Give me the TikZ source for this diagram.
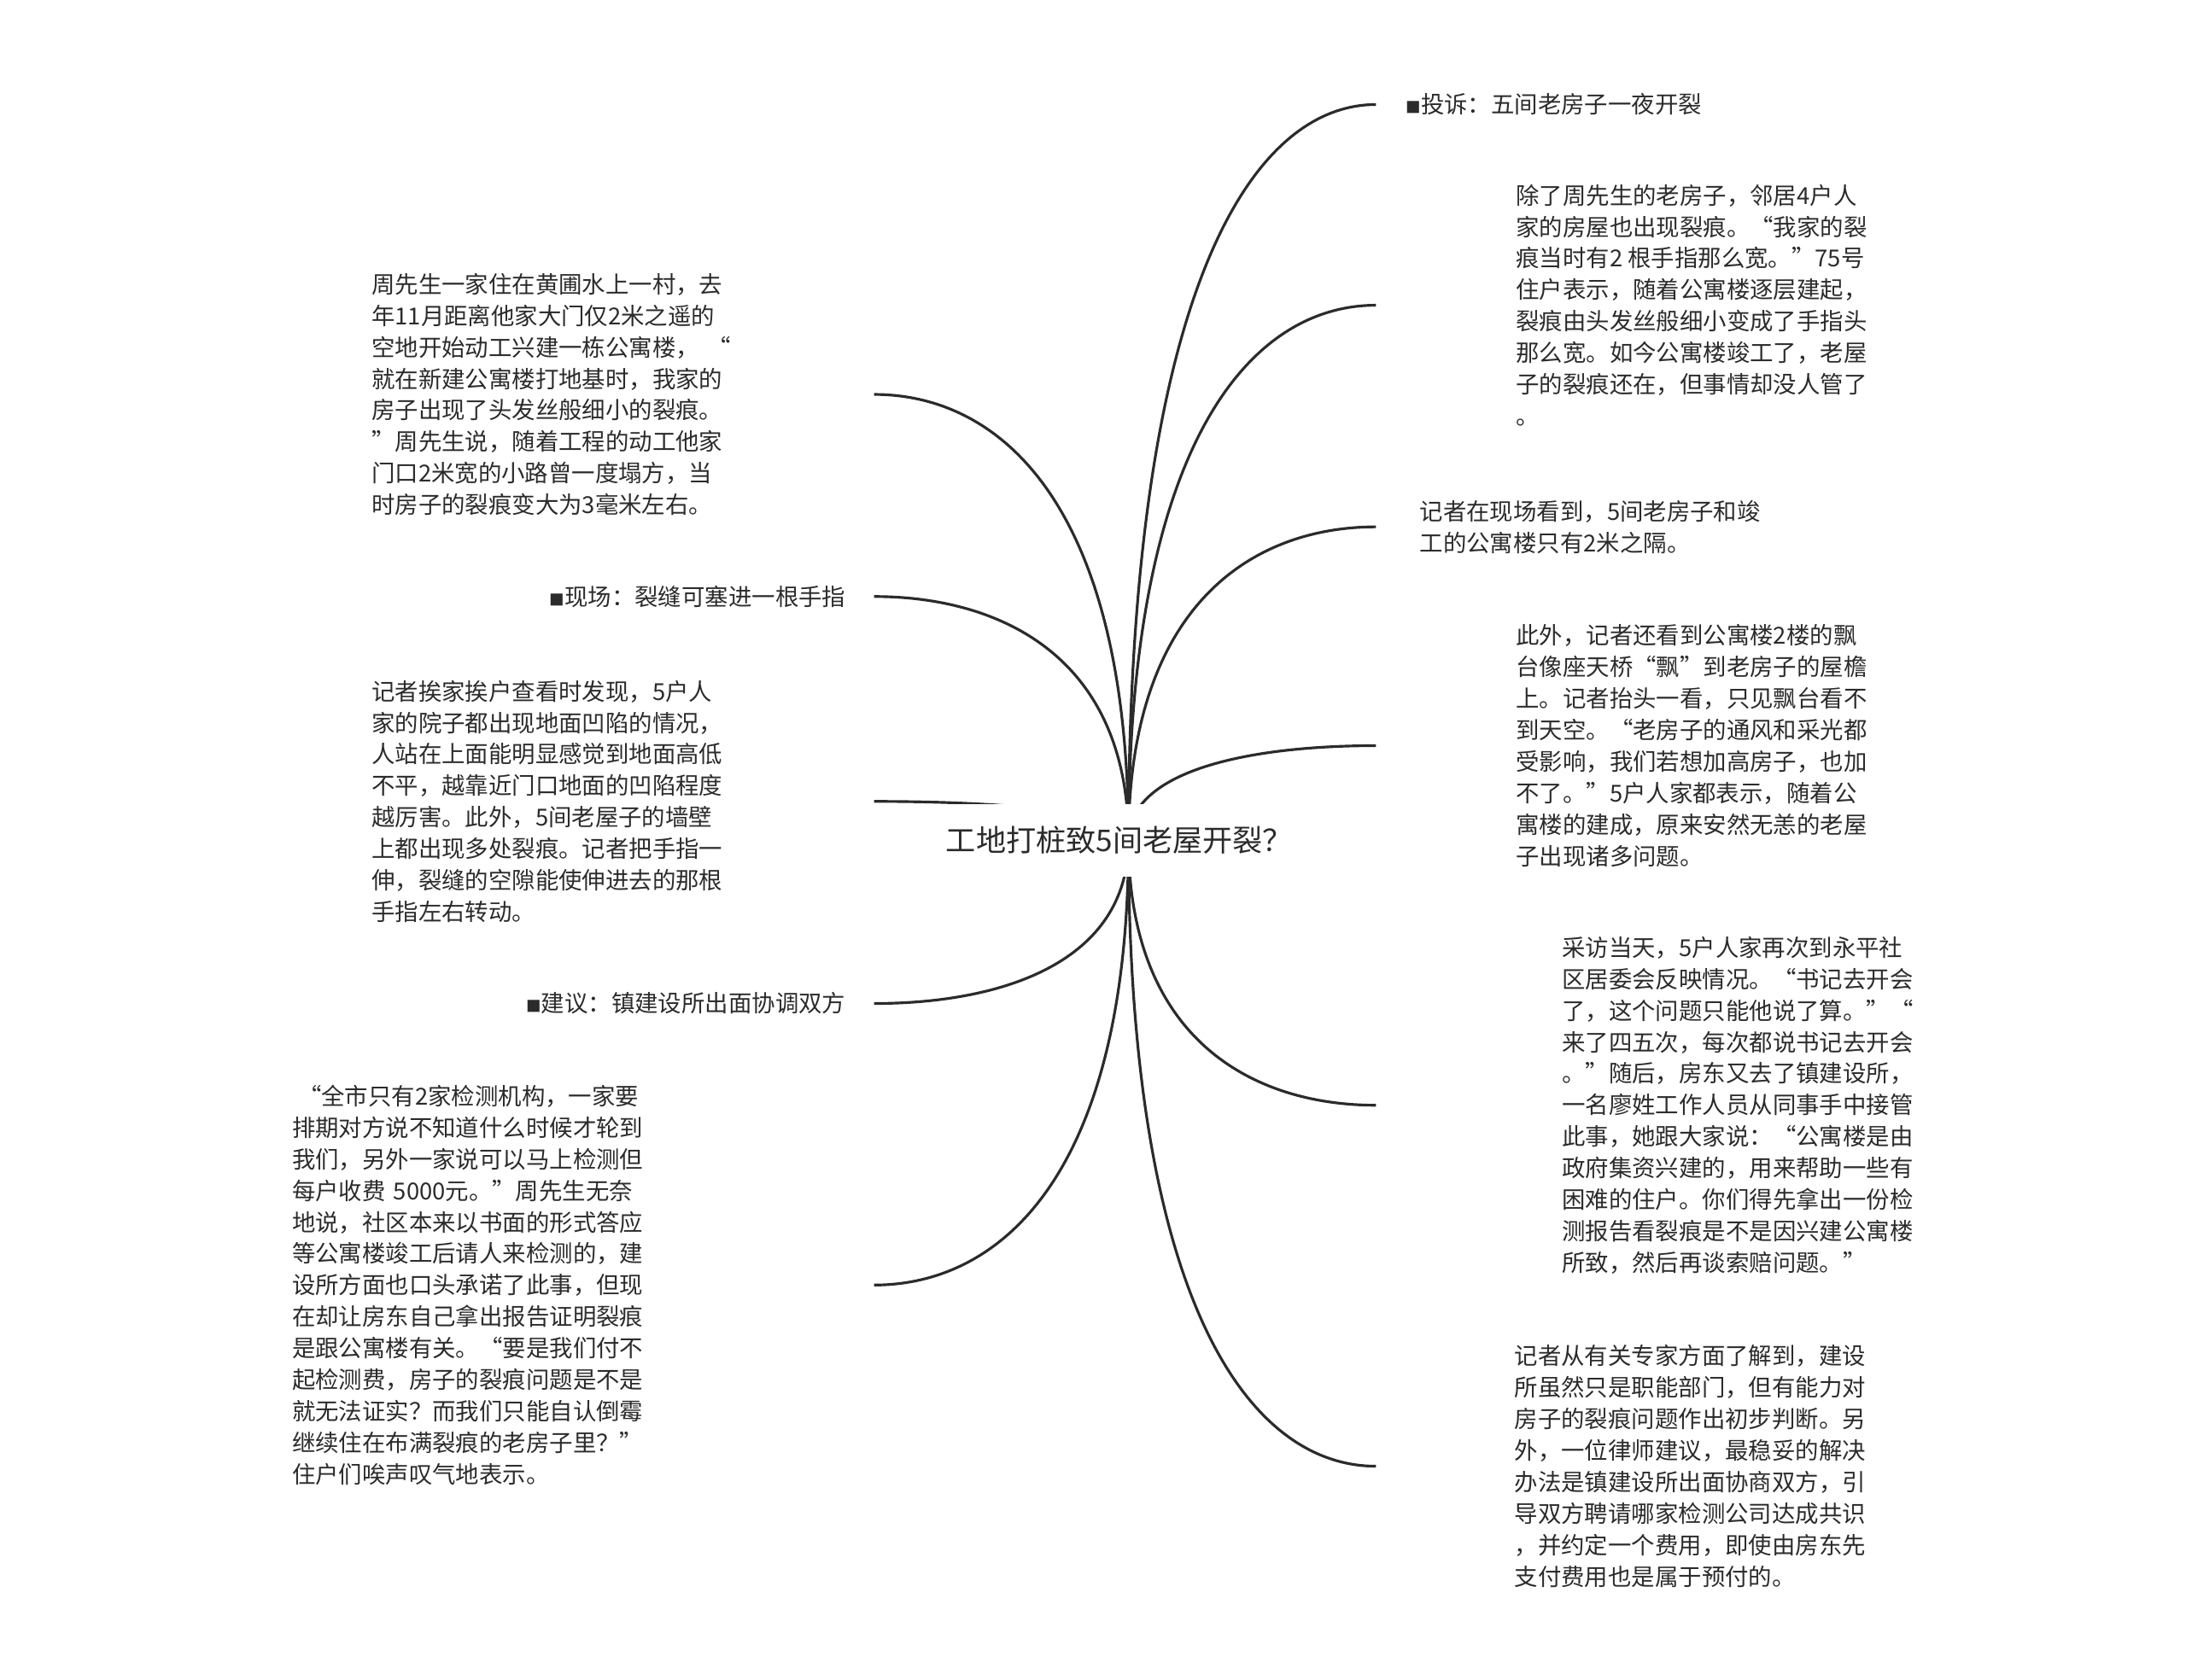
\documentclass[tikz,border=0pt]{standalone}
\usepackage{fontspec}
\setmainfont{Noto Sans CJK SC}
\usetikzlibrary{calc,backgrounds}
\definecolor{inkgray}{HTML}{2B2B2B}
\newcommand{\bulletsq}{{\fontsize{5}{5}\selectfont ■}}

\begin{document}
\begin{tikzpicture}[
    x=0.016327cm, y=-0.016327cm,
    topic/.style={fill=white, inner xsep=8pt, minimum height=24pt, text=inkgray, font=\fontsize{10}{12}\selectfont},
    leaf/.style={align=left, inner ysep=2pt, text=inkgray, font=\fontsize{7.8}{10.5}\selectfont},
    branch/.style={draw=inkgray, line width=0.9pt,
        to path={let \p1=(\tikztostart), \p2=(\tikztotarget) in
            .. controls (\x1,{\y1+0.75*(\y2-\y1)}) and ({\x1+0.5*(\x2-\x1)},\y2) .. (\tikztotarget)}}
]
    \useasboundingbox (0,0) rectangle (1568,1205);

    \node[topic] (root) at (803,603) {工地打桩致5间老屋开裂？};

    % right side
    \node[leaf, anchor=west, inner xsep=0.343cm] (complaint) at (987,75) {\bulletsq 投诉：五间老房子一夜开裂};
    \node[leaf, anchor=west, inner xsep=1.633cm] (neighbours) at (987,219) {除了周先生的老房子，邻居4户人\\家的房屋也出现裂痕。“我家的裂\\痕当时有2 根手指那么宽。”75号\\住户表示，随着公寓楼逐层建起，\\裂痕由头发丝般细小变成了手指头\\那么宽。如今公寓楼竣工了，老屋\\子的裂痕还在，但事情却没人管了\\。};
    \node[leaf, anchor=west, inner xsep=0.506cm] (distance) at (987,378) {记者在现场看到，5间老房子和竣\\工的公寓楼只有2米之隔。};
    \node[leaf, anchor=west, inner xsep=1.633cm] (balcony) at (987,535) {此外，记者还看到公寓楼2楼的飘\\台像座天桥“飘”到老房子的屋檐\\上。记者抬头一看，只见飘台看不\\到天空。“老房子的通风和采光都\\受影响，我们若想加高房子，也加\\不了。”5户人家都表示，随着公\\寓楼的建成，原来安然无恙的老屋\\子出现诸多问题。};
    \node[leaf, anchor=west, inner xsep=2.172cm] (interview) at (987,793) {采访当天，5户人家再次到永平社\\区居委会反映情况。“书记去开会\\了，这个问题只能他说了算。”“\\来了四五次，每次都说书记去开会\\。”随后，房东又去了镇建设所，\\一名廖姓工作人员从同事手中接管\\此事，她跟大家说：“公寓楼是由\\政府集资兴建的，用来帮助一些有\\困难的住户。你们得先拿出一份检\\测报告看裂痕是不是因兴建公寓楼\\所致，然后再谈索赔问题。”};
    \node[leaf, anchor=west, inner xsep=1.616cm] (expert) at (987,1052) {记者从有关专家方面了解到，建设\\所虽然只是职能部门，但有能力对\\房子的裂痕问题作出初步判断。另\\外，一位律师建议，最稳妥的解决\\办法是镇建设所出面协商双方，引\\导双方聘请哪家检测公司达成共识\\，并约定一个费用，即使由房东先\\支付费用也是属于预付的。};

    % left side
    \node[leaf, anchor=east, inner xsep=0.327cm, text width=5.551cm] (family) at (627,283) {周先生一家住在黄圃水上一村，去\\年11月距离他家大门仅2米之遥的\\空地开始动工兴建一栋公寓楼，~“\\就在新建公寓楼打地基时，我家的\\房子出现了头发丝般细小的裂痕。\\”周先生说，随着工程的动工他家\\门口2米宽的小路曾一度塌方，当\\时房子的裂痕变大为3毫米左右。};
    \node[leaf, anchor=east, inner xsep=0.327cm] (scene) at (627,428) {\bulletsq 现场：裂缝可塞进一根手指};
    \node[leaf, anchor=east, inner xsep=0.327cm, text width=5.551cm] (yards) at (627,575) {记者挨家挨户查看时发现，5户人\\家的院子都出现地面凹陷的情况，\\人站在上面能明显感觉到地面高低\\不平，越靠近门口地面的凹陷程度\\越厉害。此外，5间老屋子的墙壁\\上都出现多处裂痕。记者把手指一\\伸，裂缝的空隙能使伸进去的那根\\手指左右转动。};
    \node[leaf, anchor=east, inner xsep=0.327cm] (proposal) at (627,720) {\bulletsq 建议：镇建设所出面协调双方};
    \node[leaf, anchor=east, inner xsep=0.327cm, text width=6.482cm] (testing) at (627,922) {\hspace{2pt}“全市只有2家检测机构，一家要\\排期对方说不知道什么时候才轮到\\我们，另外一家说可以马上检测但\\每户收费 5000元。”周先生无奈\\地说，社区本来以书面的形式答应\\等公寓楼竣工后请人来检测的，建\\设所方面也口头承诺了此事，但现\\在却让房东自己拿出报告证明裂痕\\是跟公寓楼有关。“要是我们付不\\起检测费，房子的裂痕问题是不是\\就无法证实？而我们只能自认倒霉\\继续住在布满裂痕的老房子里？”\\住户们唉声叹气地表示。};

    \begin{scope}[on background layer]
        \foreach \b in {complaint,neighbours,distance,balcony,interview,expert}
            \draw[branch] ([xshift=3pt]root.center) to (\b.west);
        \foreach \b in {family,scene,yards,proposal,testing}
            \draw[branch] ([xshift=3pt]root.center) to (\b.east);
    \end{scope}
\end{tikzpicture}
\end{document}
